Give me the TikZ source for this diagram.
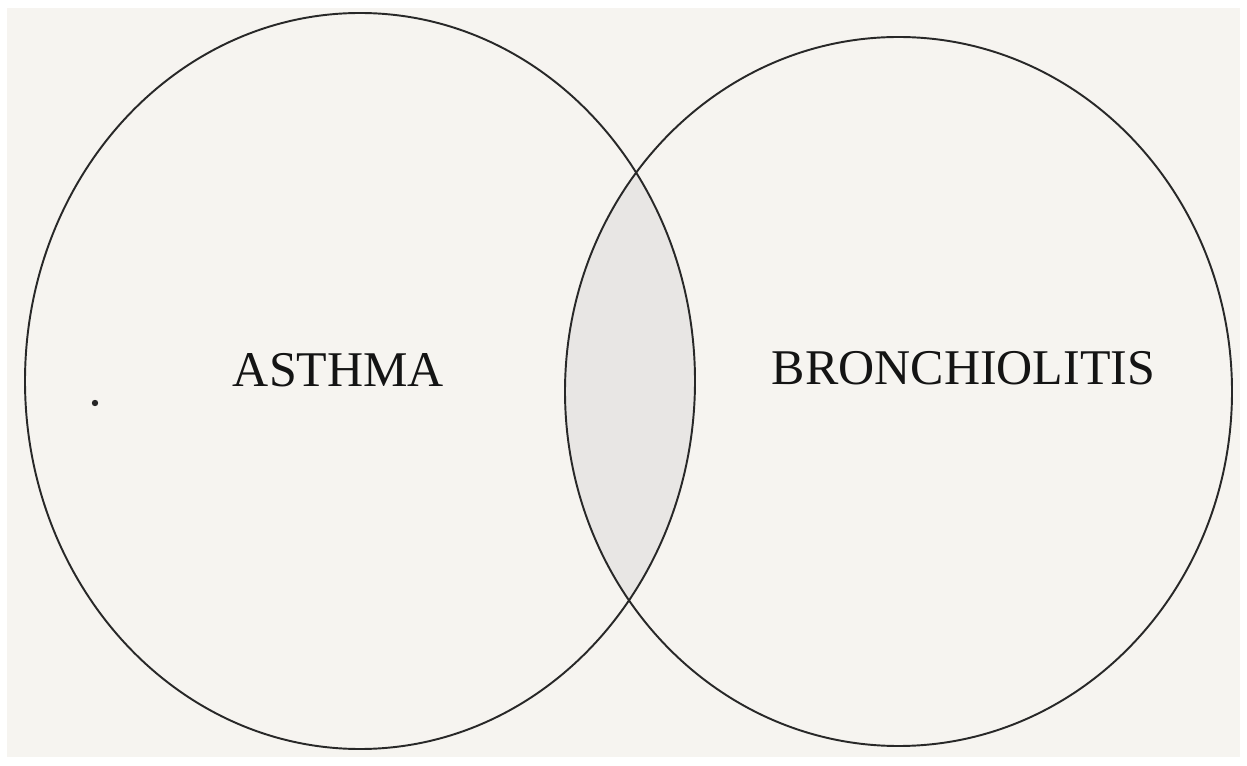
\documentclass[tikz,border=0pt]{standalone}
\usepackage{fontspec}
\setmainfont{Liberation Serif}
\definecolor{paper}{RGB}{246,244,240}
\definecolor{lens}{RGB}{232,230,228}
\definecolor{ink}{RGB}{40,40,40}
\begin{document}
\begin{tikzpicture}[x=0.02cm,y=-0.02cm,
  outline/.style={draw=ink,line width=1.1pt},
  label/.style={font=\fontsize{28.45}{34}\selectfont,text=black!92,anchor=base,inner sep=0pt}]
\useasboundingbox (0,0) rectangle (1247,766);
\fill[white] (0,0) rectangle (1247,766);
\fill[paper] (7,8) rectangle (1240,757);
% shaded intersection
\begin{scope}
  \clip (360,381) ellipse [x radius=335, y radius=368];
  \fill[lens] (898.5,391.5) ellipse [x radius=333.5, y radius=354.5];
\end{scope}
\draw[outline] (360,381) ellipse [x radius=335, y radius=368];
\draw[outline] (898.5,391.5) ellipse [x radius=333.5, y radius=354.5];
\node[label] (asthma) at (338.5,387) {ASTHMA};
\node[label] (bronch) at (963.5,385) {BRONCHIOLITIS};
\fill[black!85] (95,403) circle (3.2);
\end{tikzpicture}
\end{document}
